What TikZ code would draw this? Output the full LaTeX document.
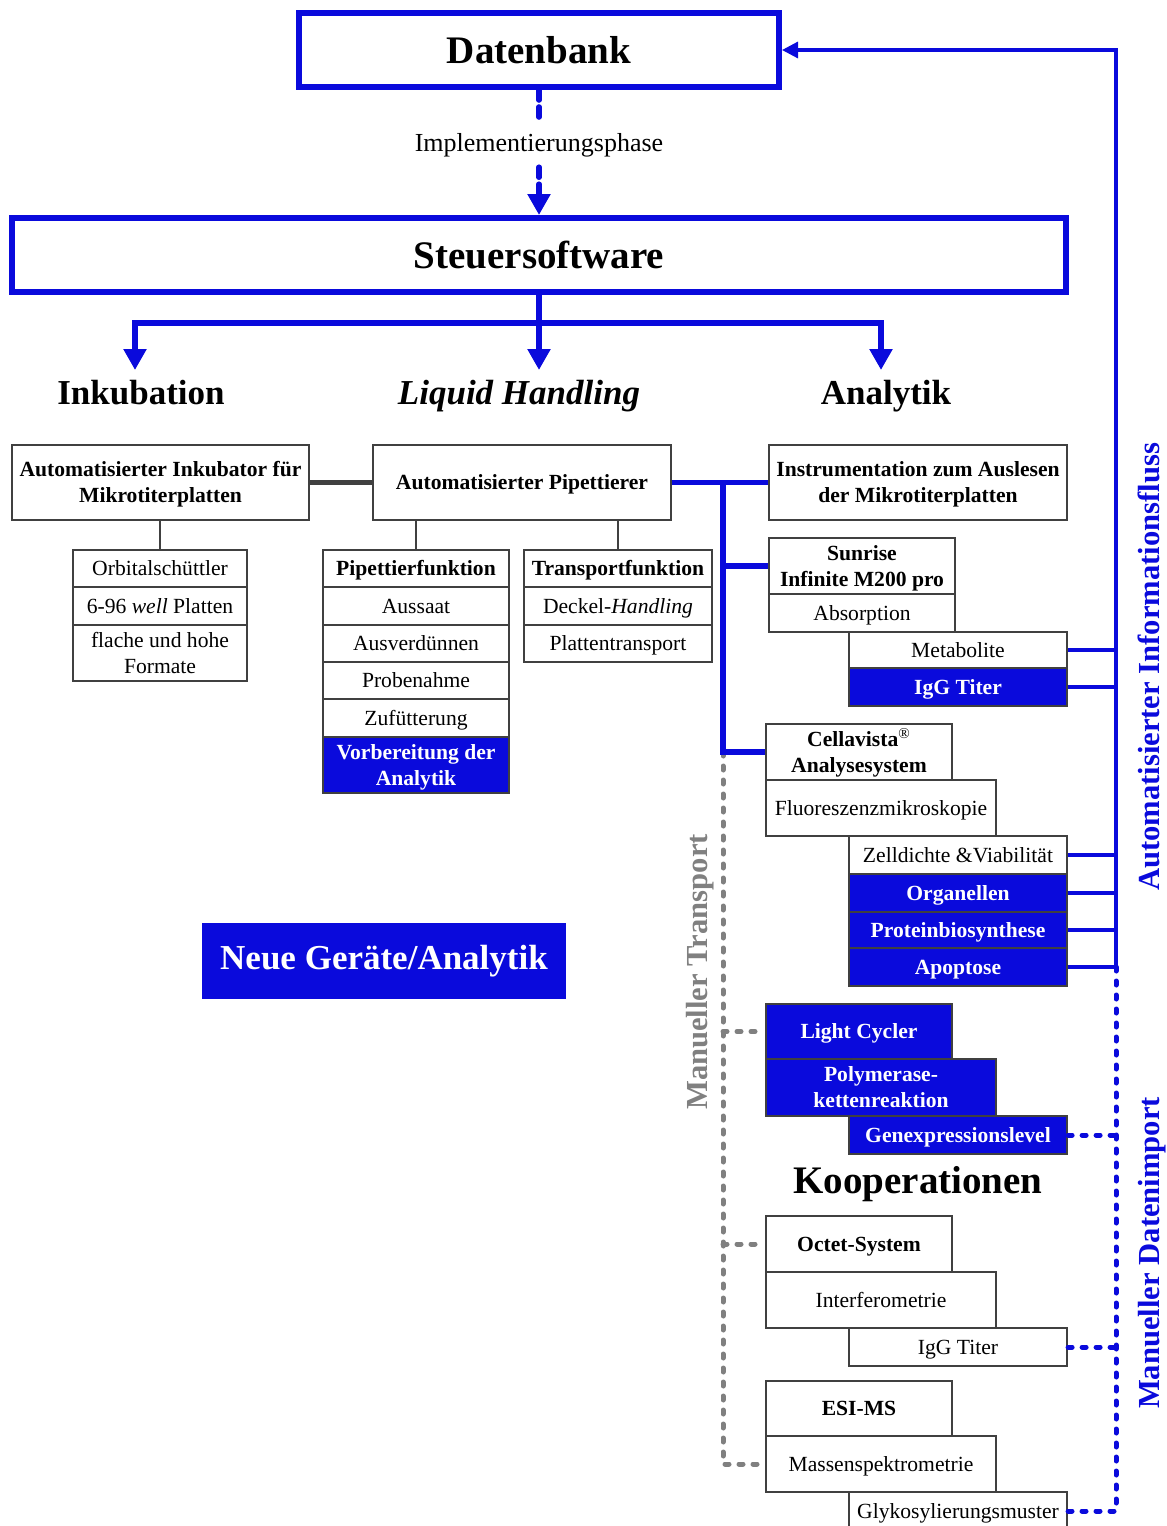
\documentclass[tikz,border=0pt]{standalone}
\usepackage{fontspec}
\setmainfont{Liberation Serif}
\usetikzlibrary{arrows.meta}
\definecolor{bl}{RGB}{10,10,220}
\definecolor{bd}{RGB}{64,64,64}
\definecolor{gr}{RGB}{128,128,128}
\newcommand\cbox[7]{\node[#6, minimum width={(#4-#2)*0.5pt}, minimum height={(#5-#3)*0.5pt}] (#1) at ({(#2+#4)/2},{(#3+#5)/2}) {#7};}
\begin{document}
\begin{tikzpicture}[x=0.5pt,y=-0.5pt,
  box/.style={draw=bd, line width=1.1pt, fill=white, inner sep=0pt, align=center, font=\fontsize{10.8}{13}\selectfont},
  box1/.style={box, text height=7.1pt, text depth=0pt},
  box2/.style={box, text height=20.1pt, text depth=0pt},
  boxb/.style={box, font=\fontsize{10.8}{13}\selectfont\bfseries},
  boxb1/.style={boxb, text height=7.1pt, text depth=0pt},
  boxb2/.style={boxb, text height=20.1pt, text depth=0pt},
  boxf/.style={boxb, fill=bl, text=white},
  boxf1/.style={boxf, text height=7.1pt, text depth=0pt},
  boxf2/.style={boxf, text height=20.1pt, text depth=0pt},
  bigbox/.style={draw=bl, line width=3pt, fill=white, inner sep=0pt, font=\fontsize{19.5}{22}\selectfont\bfseries},
  neuebox/.style={draw=bl, line width=1pt, fill=bl, text=white, inner sep=0pt, font=\fontsize{17.5}{20}\selectfont\bfseries},
  head/.style={inner sep=0pt, font=\fontsize{17.5}{20}\selectfont\bfseries},
  bighead/.style={inner sep=0pt, font=\fontsize{19.5}{22}\selectfont\bfseries},
  vt/.style={inner sep=0pt, rotate=90, anchor=base, font=\fontsize{15.3}{18}\selectfont\bfseries},
  bthick/.style={draw=bl, line width=3pt},
  bconn/.style={draw=bl, line width=2.8pt},
  info/.style={draw=bl, line width=1.6pt},
  bdot/.style={draw=bl, line width=2.5pt, dash pattern=on 2pt off 5pt, line cap=round},
  gdot/.style={draw=gr, line width=2.5pt, dash pattern=on 2pt off 5pt, line cap=round},
  bdash/.style={draw=bl, line width=2.8pt, dash pattern=on 5pt off 3.5pt, line cap=round},
  gconn/.style={draw=bd, line width=2.5pt},
  gthin/.style={draw=bd, line width=1.1pt},
  bigtip/.style={-{Triangle[width=11pt,length=10.5pt]}},
  smalltip/.style={-{Triangle[width=8pt,length=8pt]}}
]
\useasboundingbox (0,0) rectangle (1167,1526);

% top
\cbox{db}{299}{13}{779}{87}{bigbox}{Datenbank}
\cbox{steuer}{12}{218}{1066}{292}{bigbox}{Steuersoftware}
\node[font=\fontsize{13}{15}\selectfont, inner xsep=0pt, inner ysep=5pt] (impl) at (539,145) {Implementierungsphase};

% headings
\node[head, anchor=base] (inc) at (141,404) {Inkubation};
\node[head, anchor=base] (lh) at (519,404) {\textit{Liquid Handling}};
\node[head, anchor=base] (ana) at (886,404) {Analytik};
\coordinate (tInc) at (135,370);
\coordinate (tLH) at (539,370);
\coordinate (tAna) at (881,370);
\coordinate (bar) at (0,323);

% left
\cbox{inku}{12}{445}{309}{520}{boxb2}{Automatisierter Inkubator für\\Mikrotiterplatten}
\cbox{orb}{73}{550}{247}{587}{box1}{Orbitalschüttler}
\cbox{well}{73}{587}{247}{625}{box1}{6-96 \textit{well} Platten}
\cbox{flach}{73}{625}{247}{681}{box2}{flache und hohe\\Formate}

% middle
\cbox{pip}{373}{445}{671}{520}{boxb1}{Automatisierter Pipettierer}
\cbox{pipf}{323}{550}{509}{587}{boxb1}{Pipettierfunktion}
\cbox{aus}{323}{587}{509}{625}{box1}{Aussaat}
\cbox{ausv}{323}{625}{509}{662}{box1}{Ausverdünnen}
\cbox{probe}{323}{662}{509}{699}{box1}{Probenahme}
\cbox{zuf}{323}{699}{509}{737}{box1}{Zufütterung}
\cbox{vorb}{323}{737}{509}{793}{boxf2}{Vorbereitung der\\Analytik}
\cbox{trans}{524}{550}{712}{587}{boxb1}{Transportfunktion}
\cbox{deck}{524}{587}{712}{625}{box1}{Deckel-\textit{Handling}}
\cbox{platt}{524}{625}{712}{662}{box1}{Plattentransport}

% right
\cbox{instr}{769}{445}{1067}{520}{boxb2}{Instrumentation zum Auslesen\\der Mikrotiterplatten}
\cbox{sun}{769}{538}{955}{594}{boxb2}{Sunrise\\Infinite M200 pro}
\cbox{abs}{769}{594}{955}{632}{box1}{Absorption}
\cbox{meta}{849}{632}{1067}{668}{box1}{Metabolite}
\cbox{igg}{849}{668}{1067}{706}{boxf1}{IgG Titer}
\cbox{cella}{766}{724}{952}{780}{boxb2}{Cellavista\textsuperscript{\mdseries ®}\\Analysesystem}
\cbox{fluo}{766}{780}{996}{836}{box1}{Fluoreszenzmikroskopie}
\cbox{zell}{849}{836}{1067}{874}{box1}{Zelldichte \&Viabilität}
\cbox{org}{849}{874}{1067}{912}{boxf1}{Organellen}
\cbox{prot}{849}{912}{1067}{948}{boxf1}{Proteinbiosynthese}
\cbox{apo}{849}{948}{1067}{986}{boxf1}{Apoptose}
\cbox{light}{766}{1004}{952}{1059}{boxf1}{Light Cycler}
\cbox{poly}{766}{1059}{996}{1116}{boxf2}{Polymerase-\\kettenreaktion}
\cbox{gen}{849}{1116}{1067}{1154}{boxf1}{Genexpressionslevel}
\node[bighead, anchor=base] (koop) at (918,1193) {Kooperationen};
\cbox{octet}{766}{1216}{952}{1272}{boxb1}{Octet-System}
\cbox{inter}{766}{1272}{996}{1328}{box1}{Interferometrie}
\cbox{igg2}{849}{1328}{1067}{1366}{box1}{IgG Titer}
\cbox{esi}{766}{1381}{952}{1436}{boxb1}{ESI-MS}
\cbox{mass}{766}{1436}{996}{1492}{box1}{Massenspektrometrie}
\cbox{glyk}{849}{1492}{1067}{1530}{box1}{Glykosylierungsmuster}

\cbox{neue}{203}{924}{565}{998}{neuebox}{Neue Geräte/Analytik}

% vertical labels
\node[vt, text=bl] (aif) at (1159,667) {Automatisierter Informationsfluss};
\node[vt, text=bl] (mdi) at (1159,1253) {Manueller Datenimport};
\node[vt, text=gr] (mt) at (707,972) {Manueller Transport};

% connectors top
\draw[bdash] (db.south) -- (impl.north);
\draw[bdash, bigtip] (impl.south) -- (steuer.north);
\draw[bthick, bigtip] (steuer.south) -- (tLH);
\draw[bthick, {Triangle[width=11pt,length=10.5pt]}-{Triangle[width=11pt,length=10.5pt]}] (tInc) -- (tInc |- bar) -- (tAna |- bar) -- (tAna);

% left/middle connectors
\draw[gconn] (inku.east) -- (pip.west);
\draw[gthin] (orb.north |- inku.south) -- (orb.north);
\draw[gthin] (pipf.north |- pip.south) -- (pipf.north);
\draw[gthin] (trans.north |- pip.south) -- (trans.north);

% analytics connectors
\coordinate (vx) at (723,0);
\coordinate (ib) at (1116,0);
\draw[gdot] (cella.west -| vx) |- (mass.west);
\draw[gdot] (light.west -| vx) -- (light.west);
\draw[gdot] (octet.west -| vx) -- (octet.west);
\draw[bconn] (pip.east) -- (instr.west);
\draw[bconn] (pip.east -| vx) |- (sun.west);
\draw[bconn] (pip.east -| vx) |- (cella.west);

% information flow
\draw[bdot] (apo.east -| ib) -- (glyk.east -| ib) -- (glyk.east);
\draw[bdot] (gen.east) -- (gen.east -| ib);
\draw[bdot] (igg2.east) -- (igg2.east -| ib);
\draw[info, smalltip] (apo.east -| ib) -- (ib |- db.east) -- (db.east);
\foreach \n in {meta,igg,zell,org,prot,apo} {\draw[info] (\n.east) -- (\n.east -| ib);}
\end{tikzpicture}
\end{document}
